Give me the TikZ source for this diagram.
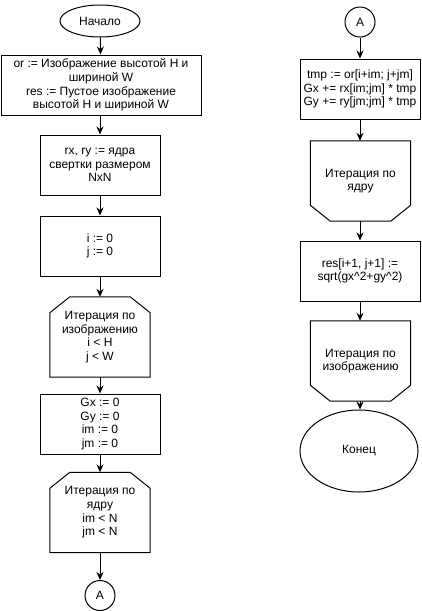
\documentclass[tikz,border=0pt]{standalone}
\usepackage{fontspec}
\setmainfont{Liberation Sans}
\usetikzlibrary{arrows.meta,shapes.geometric}
\tikzset{
  every node/.style={font=\fontsize{12}{13.6}\selectfont, align=center, inner sep=0pt},
  box/.style={draw, line width=1pt, rectangle, minimum width=120pt, minimum height=60pt},
  wide/.style={box, minimum width=200pt},
  loopbox/.style={rectangle, minimum width=100pt, minimum height=80pt},
  term/.style={draw, line width=1pt, ellipse},
  conn/.style={draw, line width=1pt, circle, minimum size=30pt},
  arr/.style={draw, line width=1pt, -{Stealth[length=8pt,width=7pt]}},
  shapeline/.style={line width=1pt, line join=miter}
}
\newcommand{\looptop}[1]{\draw[shapeline] ([xshift=20pt]#1.north west) -- ([xshift=-20pt]#1.north east) -- ([yshift=-16pt]#1.north east) -- (#1.south east) -- (#1.south west) -- ([yshift=-16pt]#1.north west) -- cycle;}
\newcommand{\loopbot}[1]{\draw[shapeline] (#1.north west) -- (#1.north east) -- ([yshift=16pt]#1.south east) -- ([xshift=-20pt]#1.south east) -- ([xshift=20pt]#1.south west) -- ([yshift=16pt]#1.south west) -- cycle;}
\begin{document}
\begin{tikzpicture}[x=1pt,y=-1pt]
\useasboundingbox (0,0) rectangle (421,611);
% left column
\node[term, minimum width=80pt, minimum height=32pt] (start) at (100,21) {Начало};
\node[wide] (b1) at (101,85) {or := Изображение высотой H и\\шириной W\\res := Пустое изображение\\высотой H и шириной W};
\node[box] (b2) at (100,165) {rx, ry := ядра\\свертки размером\\NxN};
\node[box] (b3) at (100,246) {i := 0\\j := 0};
\node[loopbox] (l1) at (100,337) {Итерация по\\изображению\\i < H\\j < W};
\looptop{l1}
\node[box] (b4) at (100,424) {Gx := 0\\Gy := 0\\im := 0\\jm := 0};
\node[loopbox] (l2) at (100,512.5) {Итерация по\\ядру\\im < N\\jm < N};
\looptop{l2}
\node[conn] (a1) at (100,595.5) {A};
% right column
\node[conn] (a2) at (360,22) {A};
\node[box] (b5) at (360,89) {tmp := or[i+im; j+jm]\\Gx += rx[im;jm] * tmp\\Gy += ry[jm;jm] * tmp};
\node[loopbox] (e1) at (360.5,181) {Итерация по\\ядру};
\loopbot{e1}
\node[box] (b6) at (360,271) {res[i+1, j+1] :=\\sqrt(gx\textasciicircum 2+gy\textasciicircum 2)};
\node[loopbox] (e2) at (360.5,361) {Итерация по\\изображению};
\loopbot{e2}
\node[term, minimum width=118pt, minimum height=82pt] (end) at (359,451) {Конец};
% connectors
\draw[arr] (start) -- (b1);
\draw[arr] (b1.south -| b2.north) -- (b2);
\draw[arr] (b2) -- (b3);
\draw[arr] (b3) -- (l1);
\draw[arr] (l1) -- (b4);
\draw[arr] (b4) -- (l2);
\draw[arr] (l2) -- (a1);
\draw[arr] (a2) -- (b5);
\draw[arr] (b5) -- (b5 |- e1.north);
\draw[arr] (e1.south -| b6.north) -- (b6);
\draw[arr] (b6) -- (b6 |- e2.north);
\draw[arr] (e2.south -| b6.north) -- (b6 |- end.north);
\end{tikzpicture}
\end{document}
